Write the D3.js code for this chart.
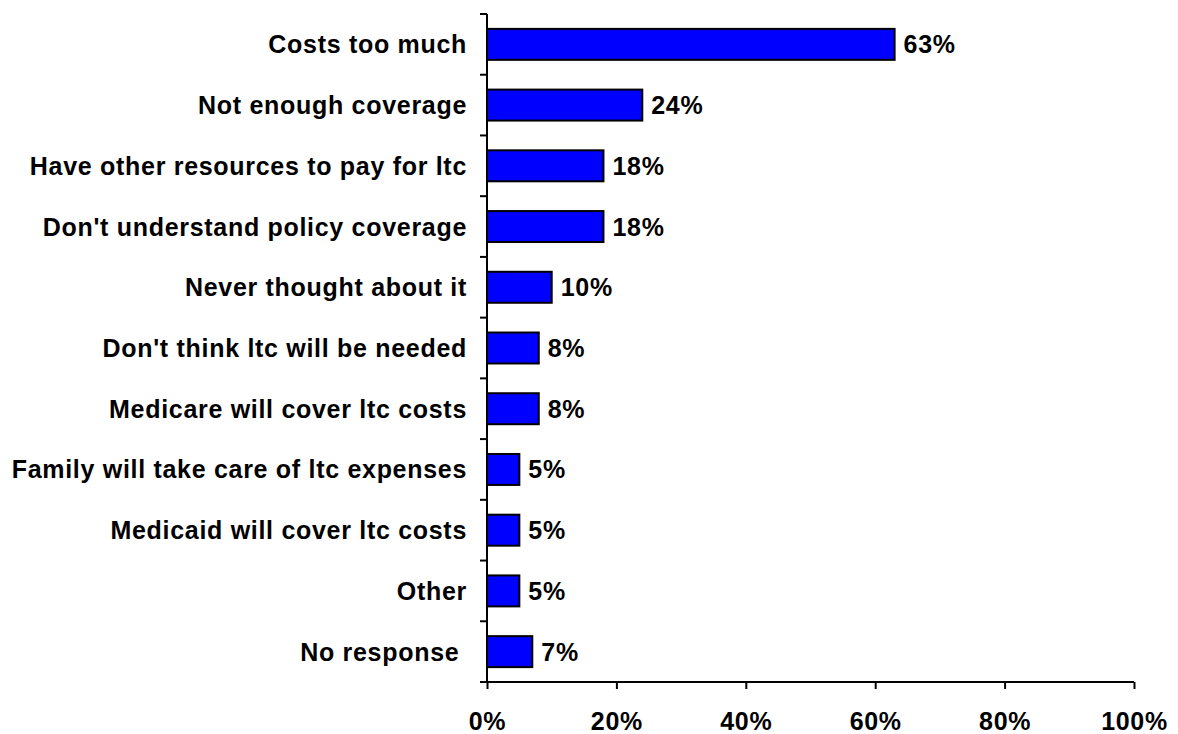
<!DOCTYPE html>
<html>
<head>
<meta charset="utf-8">
<script src="https://cdn.jsdelivr.net/npm/d3@7"></script>
<style>
  html, body { margin: 0; padding: 0; background: #fff; }
  svg text { font-family: "Liberation Sans", Arial, sans-serif; font-weight: bold; fill: #000; letter-spacing: 0.7px; white-space: pre; }
</style>
</head>
<body>
<svg id="chart" width="1178" height="734"></svg>
<script>
const categories = [
  "Costs too much",
  "Not enough coverage",
  "Have other resources to pay for ltc",
  "Don't understand policy coverage",
  "Never thought about it",
  "Don't think ltc will be needed",
  "Medicare will cover ltc costs",
  "Family will take care of ltc expenses",
  "Medicaid will cover ltc costs",
  "Other",
  "No response "
];
const values = [63, 24, 18, 18, 10, 8, 8, 5, 5, 5, 7];
const xTicks = [0, 20, 40, 60, 80, 100];

const svg = d3.select("#chart");
const plotLeft = 487, plotRight = 1134, plotTop = 14, plotBottom = 682;
const fontSize = 25;

const x = d3.scaleLinear().domain([0, 100]).range([plotLeft, plotRight]);
const y = d3.scaleBand().domain(categories).range([plotTop, plotBottom]).paddingInner(0.49).paddingOuter(0.245);

// bars
svg.append("g").selectAll("rect")
  .data(values)
  .join("rect")
  .attr("x", x(0))
  .attr("y", (d, i) => y(categories[i]))
  .attr("width", d => x(d) - x(0))
  .attr("height", y.bandwidth())
  .attr("fill", "#0000ff")
  .attr("stroke", "#000")
  .attr("stroke-width", 2);

// value labels
svg.append("g").selectAll("text")
  .data(values)
  .join("text")
  .attr("x", d => x(d) + 9)
  .attr("y", (d, i) => y(categories[i]) + y.bandwidth() / 2)
  .attr("dy", "0.36em")
  .attr("font-size", fontSize)
  .text(d => d + "%");

// y axis: category boundaries as ticks
const yAxisG = svg.append("g");
yAxisG.append("line")
  .attr("x1", plotLeft).attr("x2", plotLeft)
  .attr("y1", plotTop).attr("y2", plotBottom)
  .attr("stroke", "#000").attr("stroke-width", 2);
const step = (plotBottom - plotTop) / categories.length;
yAxisG.selectAll("line.tick")
  .data(d3.range(categories.length + 1))
  .join("line")
  .attr("class", "tick")
  .attr("x1", plotLeft - 7).attr("x2", plotLeft)
  .attr("y1", i => plotTop + i * step).attr("y2", i => plotTop + i * step)
  .attr("stroke", "#000").attr("stroke-width", 2);
yAxisG.selectAll("text")
  .data(categories)
  .join("text")
  .attr("x", plotLeft - 20)
  .attr("y", d => y(d) + y.bandwidth() / 2)
  .attr("dy", "0.36em")
  .attr("text-anchor", "end")
  .attr("font-size", fontSize)
  .text(d => d);

// x axis
const xAxis = d3.axisBottom(x)
  .tickValues(xTicks)
  .tickFormat(d => d + "%")
  .tickSize(7)
  .tickPadding(23);
const xg = svg.append("g")
  .attr("transform", `translate(0,${plotBottom})`)
  .call(xAxis);
xg.select(".domain").attr("stroke", "#000").attr("stroke-width", 2).attr("d", `M${plotLeft},0H${plotRight}`);
xg.selectAll(".tick line").attr("stroke", "#000").attr("stroke-width", 2);
xg.selectAll(".tick text").attr("font-size", fontSize).attr("fill", "#000")
  .style("font-family", "'Liberation Sans', Arial, sans-serif").style("font-weight", "bold");
</script>
</body>
</html>
